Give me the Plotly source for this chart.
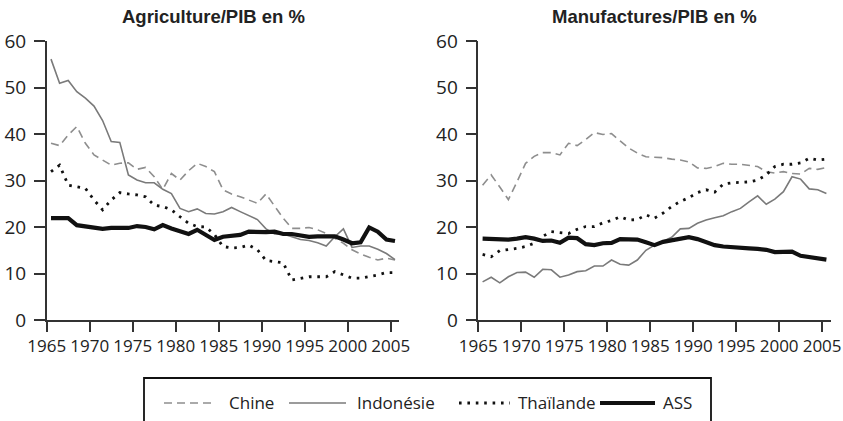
import plotly.graph_objects as go

W, H = 843, 421

years = list(range(1965, 2006))

agri_chine = [38.0, 37.5, 39.8, 41.6, 38.0, 35.5, 34.4, 33.3, 33.7, 33.8,
              32.4, 32.8, 30.8, 28.1, 31.5, 30.1, 32.1, 33.7, 33.0, 31.9,
              28.0, 27.1, 26.5, 25.8, 25.1, 27.1, 24.4, 21.9, 19.7, 19.7,
              19.9, 19.4, 18.6, 17.6, 16.5, 15.1, 14.2, 13.5, 12.9, 13.3,
              12.9]
agri_indonesie = [56.1, 50.9, 51.5, 49.1, 47.7, 46.0, 42.9, 38.4, 38.2, 31.2,
                  30.1, 29.5, 29.5, 28.1, 27.2, 24.0, 23.3, 23.9, 22.9, 22.8,
                  23.3, 24.2, 23.3, 22.4, 21.6, 19.6, 18.5, 18.5, 17.9, 17.3,
                  17.1, 16.6, 15.9, 17.9, 19.6, 15.6, 15.9, 15.9, 15.2, 14.3,
                  13.0]
agri_thailande = [31.9, 33.3, 29.0, 28.7, 28.3, 25.8, 23.7, 25.8, 27.4, 27.1,
                  26.9, 26.5, 24.7, 24.4, 23.7, 22.2, 20.8, 20.1, 20.0, 18.4,
                  15.8, 15.5, 15.6, 16.1, 15.1, 12.8, 12.5, 12.3, 8.6, 9.0,
                  9.3, 9.3, 9.3, 10.4, 9.7, 9.0, 9.0, 9.3, 9.7, 10.2,
                  10.2]
agri_ass = [21.9, 21.8, 21.9, 20.4, 20.1, 19.7, 19.6, 19.8, 19.9, 19.8,
            20.2, 20.0, 19.5, 20.4, 19.7, 19.0, 18.5, 19.4, 18.4, 17.2,
            17.9, 18.1, 18.3, 19.0, 18.9, 18.9, 19.0, 18.5, 18.5, 18.2,
            17.9, 18.0, 18.1, 18.0, 17.3, 16.5, 16.7, 19.9, 19.0, 17.3,
            17.0]

manu_chine = [29.0, 31.2, 28.6, 25.9, 29.7, 33.7, 35.2, 36.0, 36.0, 35.5,
              38.0, 37.5, 38.8, 40.3, 39.9, 40.1, 38.5, 37.0, 35.9, 35.1,
              35.0, 34.9, 34.6, 34.4, 34.0, 32.7, 32.6, 33.0, 33.7, 33.5,
              33.5, 33.3, 33.0, 31.9, 31.6, 31.9, 31.5, 31.4, 32.6, 32.4,
              32.8]
manu_indonesie = [8.2, 9.2, 8.0, 9.3, 10.2, 10.3, 9.2, 10.9, 10.8, 9.2,
                  9.7, 10.4, 10.6, 11.6, 11.6, 12.9, 12.0, 11.8, 12.9, 15.0,
                  16.1, 17.0, 17.8, 19.6, 19.7, 20.8, 21.5, 22.0, 22.4, 23.3,
                  24.0, 25.4, 26.7, 24.9, 26.0, 27.6, 30.8, 30.3, 28.2, 28.0,
                  27.2]
manu_thailande = [14.1, 13.6, 14.9, 15.1, 15.4, 15.8, 16.5, 18.0, 19.0, 18.8,
                  18.6, 19.5, 20.1, 20.1, 20.9, 21.4, 22.2, 21.5, 21.6, 22.6,
                  21.9, 23.0, 24.4, 25.5, 26.3, 27.4, 28.0, 27.5, 29.2, 29.5,
                  29.6, 29.7, 30.1, 31.2, 33.0, 33.5, 33.5, 33.8, 34.8, 34.4,
                  34.6]
manu_ass = [17.5, 17.4, 17.4, 17.3, 17.5, 17.8, 17.5, 17.0, 17.1, 16.6,
            17.7, 17.6, 16.3, 16.1, 16.5, 16.6, 17.4, 17.4, 17.3, 16.7,
            16.1, 16.8, 17.2, 17.6, 17.8, 17.4, 16.8, 16.1, 15.8, 15.6,
            15.6, 15.4, 15.3, 15.1, 14.6, 14.7, 14.7, 13.8, 13.6, 13.4,
            13.0]

tick_years = [1965, 1970, 1975, 1980, 1985, 1990, 1995, 2000, 2005]
y_ticks = [0, 10, 20, 30, 40, 50, 60]
titles = ["Agriculture/PIB en %", "Manufactures/PIB en %"]
series_names = ["Chine", "Indonésie", "Thaïlande", "ASS"]

# annual values plotted at mid-year
xpos = [y + 0.5 for y in years]

styles = {
    "Chine": dict(color="#8e8e8e", width=1.6, dash="8px,5px"),
    "Indonésie": dict(color="#7a7a7a", width=1.6),
    "Thaïlande": dict(color="#111111", width=2.8, dash="2.6px,5.8px"),
    "ASS": dict(color="#111111", width=4.2),
}

fig = go.Figure()
panels = [
    ("x", "y", [agri_chine, agri_indonesie, agri_thailande, agri_ass]),
    ("x2", "y2", [manu_chine, manu_indonesie, manu_thailande, manu_ass]),
]
for xa, ya, data in panels:
    for name, vals in zip(series_names, data):
        fig.add_trace(go.Scatter(x=xpos, y=vals, mode="lines", name=name,
                                 line=styles[name], xaxis=xa, yaxis=ya,
                                 showlegend=False, hoverinfo="skip"))

def px_x(p):
    return p / W

def px_y(p):
    return 1 - p / H

axis_col = "#333333"
txt_col = "#222222"

xcommon = dict(range=[1965, 2006], tickmode="array", tickvals=tick_years,
               ticktext=[str(t) for t in tick_years], ticks="outside",
               ticklen=10, tickwidth=1.5, tickcolor=axis_col, showline=True,
               linecolor=axis_col, linewidth=1.5, showgrid=False,
               zeroline=False, fixedrange=True, automargin=False,
               tickfont=dict(family="Open Sans", size=17, color=txt_col))
ycommon = dict(range=[0, 60], tickmode="array", tickvals=y_ticks,
               ticks="outside", ticklen=11, tickwidth=1.5, tickcolor=axis_col,
               showline=True, linecolor=axis_col, linewidth=1.5,
               showgrid=False, zeroline=False, fixedrange=True,
               automargin=False, ticklabelstandoff=4,
               tickfont=dict(family="Open Sans", size=19, color=txt_col))

ydom = [px_y(320), px_y(41)]
fig.update_layout(
    template="none",
    width=W, height=H, margin=dict(l=0, r=0, t=0, b=0, autoexpand=False),
    paper_bgcolor="white", plot_bgcolor="white",
    xaxis=dict(domain=[px_x(46.7), px_x(399.3)], anchor="y", **xcommon),
    yaxis=dict(domain=ydom, anchor="x", **ycommon),
    xaxis2=dict(domain=[px_x(478.3), px_x(830.7)], anchor="y2", **xcommon),
    yaxis2=dict(domain=ydom, anchor="x2", **ycommon),
    showlegend=False,
)

# titles
for title, cx in zip(titles, [213.5, 654.0]):
    fig.add_annotation(text="<b>%s</b>" % title, x=px_x(cx), y=px_y(16.5),
                       xref="paper", yref="paper", xanchor="center",
                       yanchor="middle", showarrow=False,
                       font=dict(family="Liberation Sans", size=18.5,
                                 color=txt_col))

# legend box (bottom edge runs past the picture, as in the reference)
fig.add_shape(type="rect", xref="paper", yref="paper",
              x0=px_x(144), x1=px_x(711), y0=px_y(378), y1=px_y(440),
              line=dict(color="#111111", width=1.8), fillcolor="rgba(0,0,0,0)")
leg_y = 403
samples = [(164, 212, 227), (289, 346, 355), (459, 510, 516), (600, 655, 661)]
for name, (s0, s1, tx) in zip(series_names, samples):
    st = styles[name]
    fig.add_shape(type="line", xref="paper", yref="paper",
                  x0=px_x(s0), x1=px_x(s1), y0=px_y(leg_y), y1=px_y(leg_y),
                  line=dict(color=st["color"], width=st["width"],
                            dash=st.get("dash", "solid")))
    fig.add_annotation(text=name, x=px_x(tx), y=px_y(leg_y - 1),
                       xref="paper", yref="paper", xanchor="left",
                       yanchor="middle", showarrow=False,
                       font=dict(family="Open Sans", size=17, color=txt_col))

fig.write_html("out.html", config={"displayModeBar": False},
               post_script="document.body.style.margin='0';"
                           "document.body.style.overflow='hidden';")
